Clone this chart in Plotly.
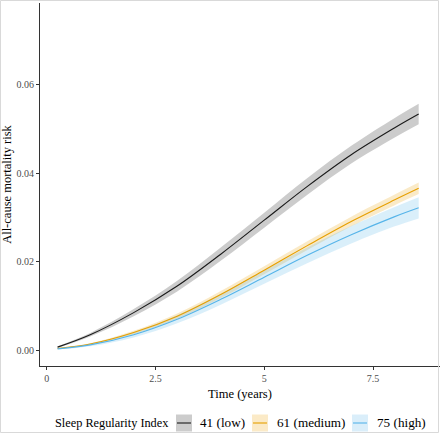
import plotly.graph_objects as go

# ---- data ----
time_years = [0.25, 1, 2, 3, 4, 5, 6, 7, 8, 8.55]

risk_low = [0.0007, 0.0035, 0.0085, 0.0145, 0.0217, 0.0294, 0.0371, 0.0442, 0.0503, 0.0534]
ci_low = [0.0002, 0.0004, 0.0008, 0.0012, 0.0015, 0.0017, 0.0019, 0.0020, 0.0022, 0.0023]

risk_medium = [0.0004, 0.0014, 0.0040, 0.0077, 0.0126, 0.0181, 0.0237, 0.0291, 0.0340, 0.0366]
ci_medium = [0.0001, 0.0002, 0.0004, 0.0006, 0.0008, 0.0009, 0.0010, 0.0011, 0.0012, 0.0013]

risk_high = [0.0003, 0.0012, 0.0035, 0.0070, 0.0115, 0.0165, 0.0215, 0.0261, 0.0302, 0.0322]
ci_high = [0.0001, 0.0003, 0.0006, 0.0009, 0.0012, 0.0015, 0.0018, 0.0020, 0.0022, 0.0024]

series_labels = ["41 (low)", "61 (medium)", "75 (high)"]
legend_title = "Sleep Regularity Index"
x_ticks = [0, 2.5, 5, 7.5]
x_tick_text = ["0", "2.5", "5", "7.5"]
y_ticks = [0.0, 0.02, 0.04, 0.06]
y_tick_text = ["0.00", "0.02", "0.04", "0.06"]

# ---- styles ----
line_colors = ["#1a1a1a", "#E69F00", "#56B4E9"]
band_colors = ["rgba(0,0,0,0.2)", "rgba(230,159,0,0.22)", "rgba(86,180,233,0.22)"]
FONT = "Liberation Serif"

W, H = 440, 433
ML, MR, MT, MB = 40, 0, 3, 67

fig = go.Figure()

series = [(risk_low, ci_low), (risk_medium, ci_medium), (risk_high, ci_high)]

for (vals, ci), bc in zip(series, band_colors):
    upper = [v + c for v, c in zip(vals, ci)]
    lower = [v - c for v, c in zip(vals, ci)]
    fig.add_trace(go.Scatter(
        x=time_years, y=lower, mode="lines",
        line=dict(width=0, shape="spline", smoothing=1.0),
        hoverinfo="skip", showlegend=False))
    fig.add_trace(go.Scatter(
        x=time_years, y=upper, mode="lines",
        fill="tonexty", fillcolor=bc,
        line=dict(width=0, shape="spline", smoothing=1.0),
        hoverinfo="skip", showlegend=False))

for (vals, ci), lc, name in zip(series, line_colors, series_labels):
    fig.add_trace(go.Scatter(
        x=time_years, y=vals, mode="lines", name=name,
        line=dict(color=lc, width=1.1, shape="spline", smoothing=1.0),
        showlegend=False))

# helpers: pixel -> paper coordinates
pw = W - ML - MR
ph = H - MT - MB
def px(xp):
    return (xp - ML) / pw
def py(yp):
    return (H - MB - yp) / ph

shapes = []
annotations = []

# custom legend (ggplot style keys)
leg_y = 423
annotations.append(dict(xref="paper", yref="paper", x=px(53), y=py(leg_y),
                        xanchor="left", yanchor="middle", showarrow=False,
                        text=legend_title, font=dict(family=FONT, size=12.3, color="#000")))
key_x = [176, 252, 352]
text_x = [198, 275, 375]
fills_solid = ["#cccccc", "#fbeac7", "#daeefa"]
for kx, tx, fc, lc, name in zip(key_x, text_x, fills_solid, line_colors, series_labels):
    shapes.append(dict(type="rect", xref="paper", yref="paper",
                       x0=px(kx), x1=px(kx + 16), y0=py(leg_y - 8.5), y1=py(leg_y + 8.5),
                       fillcolor=fc, line=dict(width=0), layer="above"))
    shapes.append(dict(type="line", xref="paper", yref="paper",
                       x0=px(kx + 1), x1=px(kx + 15), y0=py(leg_y), y1=py(leg_y),
                       line=dict(color=lc, width=1.1), layer="above"))
    annotations.append(dict(xref="paper", yref="paper", x=px(tx), y=py(leg_y),
                            xanchor="left", yanchor="middle", showarrow=False,
                            text=name, font=dict(family=FONT, size=13.2, color="#000")))

# light image border
shapes.append(dict(type="rect", xref="paper", yref="paper",
                   x0=px(0.5), x1=px(438.5), y0=py(432.5), y1=py(0.5),
                   line=dict(color="#d9d9d9", width=1), fillcolor="rgba(0,0,0,0)", layer="above"))

fig.update_layout(
    width=W, height=H,
    margin=dict(l=ML, r=MR, t=MT, b=MB),
    paper_bgcolor="white", plot_bgcolor="white",
    font=dict(family=FONT, color="#000"),
    showlegend=False,
    shapes=shapes, annotations=annotations,
    xaxis=dict(range=[-0.154, 9.04], tickvals=x_ticks, ticktext=x_tick_text,
               showgrid=False, zeroline=False, showline=True, linecolor="#333333", linewidth=1.2,
               ticks="outside", ticklen=3, tickcolor="#333333", tickwidth=1,
               tickfont=dict(family=FONT, size=10, color="#4d4d4d"),
               title=dict(text="Time (years)", font=dict(family=FONT, size=12.5, color="#000"), standoff=6)),
    yaxis=dict(range=[-0.00357, 0.0785], tickvals=y_ticks, ticktext=y_tick_text,
               showgrid=False, zeroline=False, showline=True, linecolor="#333333", linewidth=1.2,
               ticks="outside", ticklen=3, tickcolor="#333333", tickwidth=1,
               tickfont=dict(family=FONT, size=10, color="#4d4d4d"),
               title=dict(text="All-cause mortality risk", font=dict(family=FONT, size=12.5, color="#000"), standoff=4)),
)

fig.write_html("out.html",
               config={"displayModeBar": False},
               post_script="document.body.style.margin='0';document.body.style.overflow='hidden';")
